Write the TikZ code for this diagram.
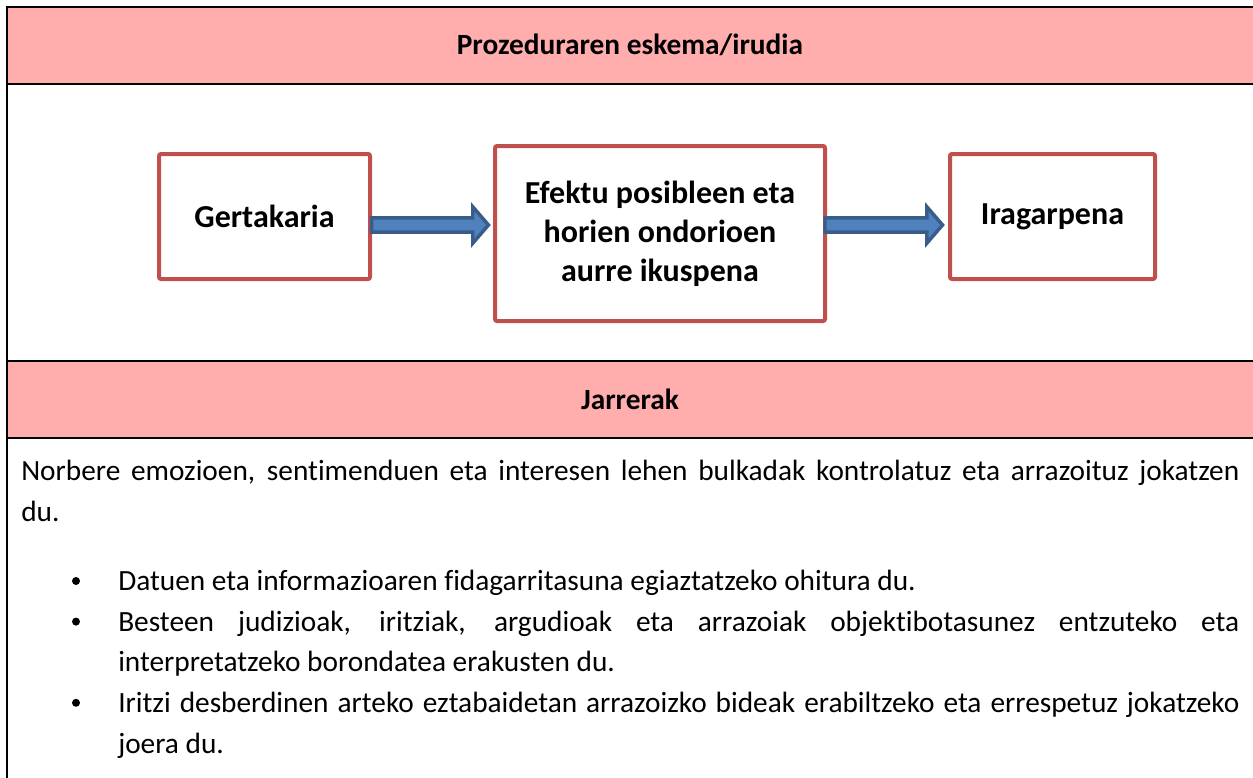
\documentclass[tikz,border=0pt]{standalone}
\usepackage{fontspec}
\setmainfont{Carlito}[Ligatures=NoCommon]
\usetikzlibrary{calc}
\definecolor{hdr}{HTML}{FFADAD}
\definecolor{boxred}{HTML}{C0504D}
\definecolor{arrfill}{HTML}{4F81BD}
\definecolor{arrline}{HTML}{385D8A}
\tikzset{
  stagebox/.style={draw=boxred, line width=3pt, rounded corners=1.5pt, fill=white, inner sep=0pt, align=center,
    font=\fontsize{24pt}{29.25pt}\selectfont\bfseries},
  blockarrow/.style={fill=arrfill, draw=arrline, line width=2.6pt, line join=miter},
  bodytext/.style={anchor=base west, inner sep=0pt, font=\fontsize{22pt}{30pt}\selectfont},
  headtext/.style={anchor=base, inner sep=0pt, font=\fontsize{22pt}{30pt}\selectfont\bfseries},
  tablerule/.style={line width=1.5pt},
  bulletdot/.style={circle, fill=black, inner sep=0pt, minimum size=6pt},
}
\begin{document}
\begin{tikzpicture}[x=0.75pt,y=-0.75pt]
\useasboundingbox (0,0) rectangle (1253,778);
% table backgrounds
\fill[hdr] (7,7) rectangle (1260,83.7);
\fill[hdr] (7,361) rectangle (1260,437.7);
% table rules
\draw[tablerule] (1262,7) -- (7,7) -- (7,790);
\draw[tablerule] (7,83.7) -- (1262,83.7);
\draw[tablerule] (7,361) -- (1262,361);
\draw[tablerule] (7,437.7) -- (1262,437.7);
% headings
\node[headtext] (h1) at (630,54.5) {Prozeduraren eskema/irudia};
\node[headtext] (h2) at (630,409) {Jarrerak};
% stage boxes
\node[stagebox, minimum width=158.25pt, minimum height=93.75pt] (g) at (264.5,216.5) {Gertakaria};
\node[stagebox, minimum width=247.5pt, minimum height=131.25pt] (m) at (660,233.5) {Efektu posibleen eta\\horien ondorioen\\aurre ikuspena};
\node[stagebox, minimum width=153.75pt, minimum height=93.75pt] (n) at (1052.5,216.5) {Iragarpena};
% block arrows
\filldraw[blockarrow] let \p1=(g.east), \p2=(m.west), \p3=(0,225) in
  (\x1-0.3pt,\y3+5.4pt) -- (\x2-15.2pt,\y3+5.4pt) -- (\x2-15.2pt,\y3+13.7pt) -- (\x2-3.4pt,\y3)
  -- (\x2-15.2pt,\y3-13.7pt) -- (\x2-15.2pt,\y3-5.4pt) -- (\x1-0.3pt,\y3-5.4pt) -- cycle;
\filldraw[blockarrow] let \p1=(m.east), \p2=(n.west), \p3=(0,225) in
  (\x1-1.5pt,\y3+5.4pt) -- (\x2-15.9pt,\y3+5.4pt) -- (\x2-15.9pt,\y3+13.7pt) -- (\x2-4.1pt,\y3)
  -- (\x2-15.9pt,\y3-13.7pt) -- (\x2-15.9pt,\y3-5.4pt) -- (\x1-1.5pt,\y3-5.4pt) -- cycle;
% body text
\node[bodytext] (p1a) at (21,480.5) {\makebox[913.5pt][s]{Norbere emozioen, sentimenduen eta interesen lehen bulkadak kontrolatuz eta arrazoituz jokatzen}};
\node[bodytext] (p1b) at (21,521.1) {du.};
\node[bulletdot] (b1) at (76,581) {};
\node[bodytext] (l1) at (118,590.7) {Datuen eta informazioaren fidagarritasuna egiaztatzeko ohitura du.};
\node[bulletdot] (b2) at (76,621.6) {};
\node[bodytext] (l2a) at (118,631.3) {\makebox[840.75pt][s]{Besteen judizioak, iritziak, argudioak eta arrazoiak objektibotasunez entzuteko eta}};
\node[bodytext] (l2b) at (118,671.9) {interpretatzeko borondatea erakusten du.};
\node[bulletdot] (b3) at (76,702.8) {};
\node[bodytext] (l3a) at (118,712.5) {\makebox[840.75pt][s]{Iritzi desberdinen arteko eztabaidetan arrazoizko bideak erabiltzeko eta errespetuz jokatzeko}};
\node[bodytext] (l3b) at (118,753.1) {joera du.};
\end{tikzpicture}
\end{document}
